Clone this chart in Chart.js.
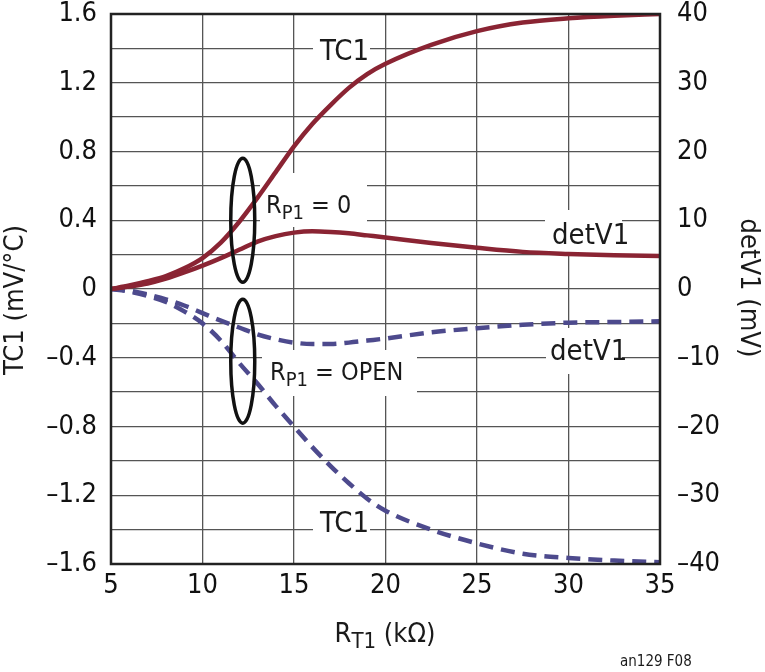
<!DOCTYPE html>
<html>
<head>
<meta charset="utf-8">
<script src="https://cdn.jsdelivr.net/npm/chart.js@4"></script>
<style>
  html, body { margin: 0; padding: 0; background: #fff; }
  #wrap { width: 765px; height: 672px; position: relative; }
</style>
</head>
<body>
<div id="wrap"><canvas id="chart"></canvas></div>
<script>
  // R_T1 in kOhm
  var rt1 = [5, 6, 7, 8, 9, 10, 11, 12, 13, 14, 15, 16, 17, 18, 19, 20, 22.5, 25, 27.5, 30, 32.5, 35];

  // R_P1 = 0 (solid)
  var tc1Zero   = [0, 0.02, 0.045, 0.075, 0.12, 0.18, 0.27, 0.39, 0.53, 0.68, 0.83, 0.96, 1.07, 1.17, 1.25, 1.31, 1.42, 1.5, 1.55, 1.575, 1.59, 1.6];   // mV/°C
  var detV1Zero = [0, 0.35, 0.8, 1.5, 2.4, 3.4, 4.5, 5.7, 6.9, 7.7, 8.2, 8.4, 8.3, 8.1, 7.8, 7.5, 6.7, 6.0, 5.4, 5.1, 4.9, 4.8];             // mV

  // R_P1 = OPEN (dashed)
  var tc1Open   = [0, -0.015, -0.04, -0.075, -0.13, -0.2, -0.3, -0.43, -0.55, -0.68, -0.8, -0.92, -1.03, -1.13, -1.22, -1.29, -1.4, -1.48, -1.54, -1.565, -1.58, -1.59];
  var detV1Open = [0, -0.25, -0.8, -1.5, -2.4, -3.5, -4.6, -5.6, -6.6, -7.3, -7.8, -8.0, -8.0, -7.8, -7.5, -7.2, -6.3, -5.7, -5.2, -4.9, -4.8, -4.7];

  var leftTicks = { min: -1.6, max: 1.6, step: 0.2 };
  var rightTicks = { min: -40, max: 40, step: 10 };

  var RED = '#8a2433';
  var BLUE = '#4d4a8d';
  var FONT = "'Liberation Sans Narrow', 'DejaVu Sans Condensed', sans-serif";

  function pts(ys) {
    return rt1.map(function(x, i) { return { x: x, y: ys[i] }; });
  }

  function dash(s) {
    return String(s).replace('-', '\u2013');
  }

  // fixed box sizes so the plot area lands where the original has it
  function fixBox(w, h) {
    return function(s) {
      if (w) s.width = w;
      if (h) s.height = h;
      s.paddingTop = 0;
      s.paddingBottom = 0;
      s.paddingLeft = 0;
      s.paddingRight = 0;
    };
  }

  // draw "R" + subscript + rest
  function subText(ctx, x, y, main, sub, rest, size, align) {
    var small = Math.round(size * 0.8);
    ctx.font = size + 'px ' + FONT;
    var w1 = ctx.measureText(main).width;
    var w3 = ctx.measureText(rest).width;
    ctx.font = small + 'px ' + FONT;
    var w2 = ctx.measureText(sub).width;
    var total = w1 + w2 + w3;
    var x0 = align === 'center' ? x - total / 2 : x;
    ctx.textAlign = 'left';
    ctx.textBaseline = 'alphabetic';
    ctx.font = size + 'px ' + FONT;
    ctx.fillText(main, x0, y);
    ctx.font = small + 'px ' + FONT;
    ctx.fillText(sub, x0 + w1, y + size * 0.24);
    ctx.font = size + 'px ' + FONT;
    ctx.fillText(rest, x0 + w1 + w2, y);
    return total;
  }

  // label boxes that cut the grid
  var labels = [
    { text: 'TC1', x: 320, y: 60, size: 29, box: [313, 30, 57, 36] },
    { sub: ['R', 'P1', ' = 0'], x: 266, y: 213, size: 25, box: [260, 173, 107, 54] },
    { text: 'detV1', x: 552, y: 244, size: 29, box: [545, 210, 77, 42] },
    { text: 'detV1', x: 550, y: 360, size: 29, box: [546, 328, 76, 46] },
    { sub: ['R', 'P1', ' = OPEN'], x: 270, y: 380, size: 25, box: [262, 350, 155, 46] },
    { text: 'TC1', x: 320, y: 532, size: 29, box: [313, 505, 57, 35] }
  ];

  var annotPlugin = {
    id: 'annot',
    beforeDatasetsDraw: function(chart) {
      var ctx = chart.ctx;
      ctx.save();
      ctx.fillStyle = '#fff';
      labels.forEach(function(l) {
        ctx.fillRect(l.box[0], l.box[1], l.box[2], l.box[3]);
      });
      ctx.restore();
    },
    afterDatasetsDraw: function(chart) {
      var ctx = chart.ctx;
      var a = chart.chartArea;
      var xs = chart.scales.x;
      var ys = chart.scales.y;
      ctx.save();

      // frame
      ctx.strokeStyle = '#222';
      ctx.lineWidth = 2.5;
      ctx.strokeRect(a.left, a.top, a.right - a.left, a.bottom - a.top);

      // ellipses grouping the curves
      ctx.strokeStyle = '#111';
      ctx.lineWidth = 3.5;
      ctx.beginPath();
      ctx.ellipse(xs.getPixelForValue(12.2), ys.getPixelForValue(0.4), 12, 62, 0, 0, Math.PI * 2);
      ctx.stroke();
      ctx.beginPath();
      ctx.ellipse(xs.getPixelForValue(12.2), ys.getPixelForValue(-0.42), 12, 62, 0, 0, Math.PI * 2);
      ctx.stroke();

      // labels
      ctx.fillStyle = '#1a1a1a';
      labels.forEach(function(l) {
        if (l.sub) {
          subText(ctx, l.x, l.y, l.sub[0], l.sub[1], l.sub[2], l.size, 'left');
        } else {
          ctx.font = l.size + 'px ' + FONT;
          ctx.textAlign = 'left';
          ctx.textBaseline = 'alphabetic';
          ctx.fillText(l.text, l.x, l.y);
        }
      });

      // axis titles
      ctx.font = '27px ' + FONT;
      ctx.textAlign = 'center';
      ctx.textBaseline = 'middle';
      ctx.save();
      ctx.translate(16, 300);
      ctx.rotate(-Math.PI / 2);
      ctx.fillText('TC1 (mV/\u00B0C)', 0, 0);
      ctx.restore();
      ctx.save();
      ctx.translate(748, 288);
      ctx.rotate(Math.PI / 2);
      ctx.fillText('detV1 (mV)', 0, 0);
      ctx.restore();

      subText(ctx, 385, 642, 'R', 'T1', ' (k\u03A9)', 27, 'center');

      ctx.font = '15px ' + FONT;
      ctx.textAlign = 'left';
      ctx.textBaseline = 'alphabetic';
      ctx.fillText('an129 F08', 620, 666);
      ctx.restore();
    }
  };

  var tickFont = { family: FONT, size: 27, lineHeight: 1 };

  new Chart(document.getElementById('chart'), {
    type: 'line',
    data: {
      datasets: [
        { label: 'TC1 (RP1 = 0)', data: pts(tc1Zero), yAxisID: 'y', borderColor: RED, borderWidth: 4.5 },
        { label: 'detV1 (RP1 = 0)', data: pts(detV1Zero), yAxisID: 'y2', borderColor: RED, borderWidth: 4.5 },
        { label: 'TC1 (RP1 = OPEN)', data: pts(tc1Open), yAxisID: 'y', borderColor: BLUE, borderWidth: 4.5, borderDash: [14, 8] },
        { label: 'detV1 (RP1 = OPEN)', data: pts(detV1Open), yAxisID: 'y2', borderColor: BLUE, borderWidth: 4.5, borderDash: [14, 8] }
      ]
    },
    options: {
      responsive: true,
      maintainAspectRatio: false,
      animation: false,
      layout: { padding: { top: 14, left: 0, right: 0, bottom: 0 } },
      elements: {
        point: { radius: 0 },
        line: { cubicInterpolationMode: 'monotone', fill: false }
      },
      plugins: {
        legend: { display: false },
        tooltip: { enabled: false }
      },
      scales: {
        x: {
          type: 'linear',
          min: 5,
          max: 35,
          afterFit: fixBox(0, 108),
          border: { display: false },
          grid: { color: '#555', lineWidth: 1.3, drawTicks: false },
          ticks: { stepSize: 5, padding: 8, color: '#111', font: tickFont, maxRotation: 0 }
        },
        y: {
          position: 'left',
          min: leftTicks.min,
          max: leftTicks.max,
          afterFit: fixBox(111, 0),
          border: { display: false },
          grid: { color: '#555', lineWidth: 1.3, drawTicks: false },
          ticks: {
            stepSize: leftTicks.step,
            padding: 14,
            color: '#111',
            font: tickFont,
            autoSkip: false,
            callback: function(v) {
              var k = Math.round(v / leftTicks.step);
              if (k % 2 !== 0) return '';
              return dash((k * leftTicks.step).toFixed(1).replace(/^(-?)0\.0$/, '0'));
            }
          }
        },
        y2: {
          position: 'right',
          min: rightTicks.min,
          max: rightTicks.max,
          afterFit: fixBox(105, 0),
          border: { display: false },
          grid: { display: false, drawTicks: false },
          ticks: {
            stepSize: rightTicks.step,
            padding: 17,
            color: '#111',
            font: tickFont,
            callback: function(v) { return dash(v); }
          }
        }
      }
    },
    plugins: [annotPlugin]
  });
</script>
</body>
</html>
